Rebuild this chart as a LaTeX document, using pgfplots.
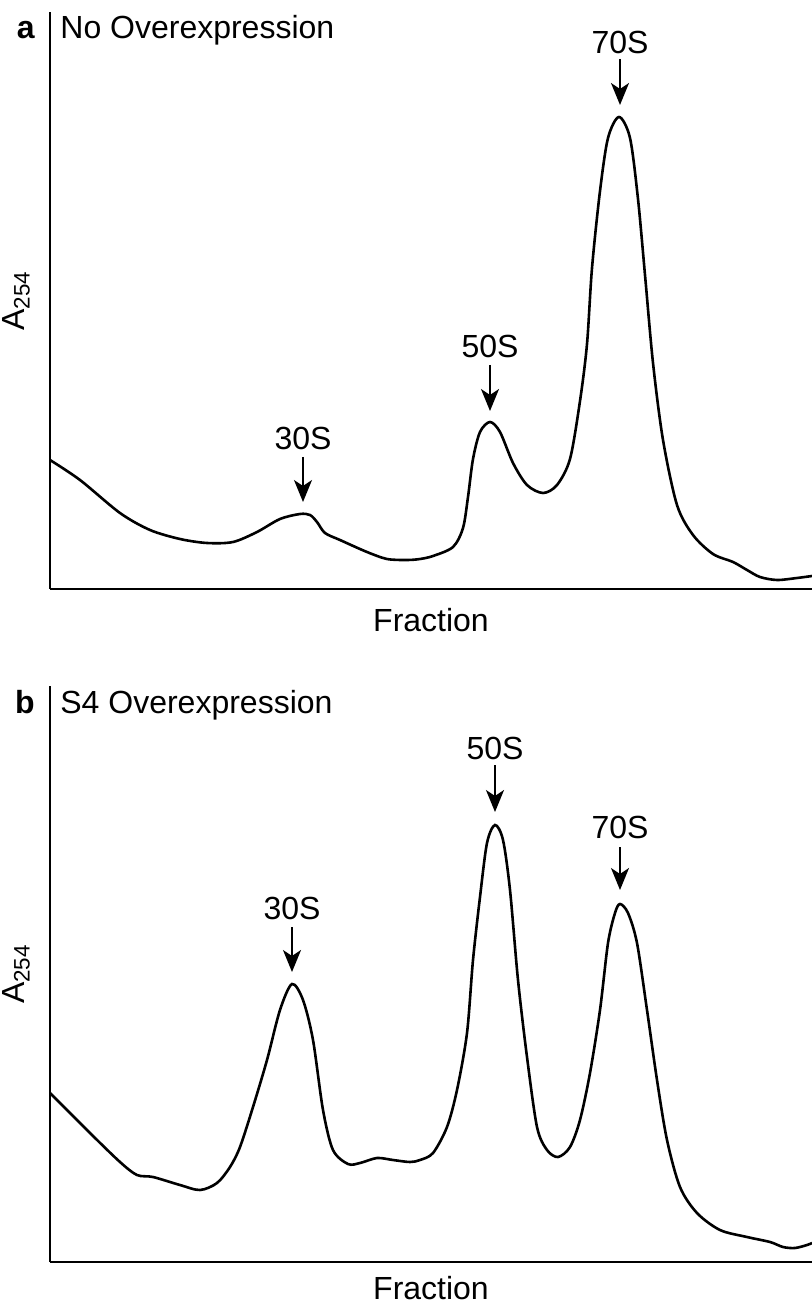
\documentclass[border=0pt]{standalone}
\usepackage{fontspec}
\setmainfont{Liberation Sans}
\usepackage{pgfplots}
\pgfplotsset{compat=1.18}
\usetikzlibrary{arrows.meta}

% one sucrose-gradient profile panel
\pgfplotsset{
  profile/.style={
    width=381pt, height=288.5pt, scale only axis,
    xmin=0, xmax=762, ymin=0,
    axis x line=bottom, axis y line=left,
    axis line style={line width=1pt, -},
    xtick=\empty, ytick=\empty,
    xlabel={Fraction}, ylabel={A\textsubscript{254}},
    xlabel style={at={(axis description cs:0.5,0)}, anchor=north, inner sep=0pt, yshift=-9.5pt},
    ylabel style={at={(axis description cs:-0.012,0.5)}, anchor=south},
    clip=false,
  },
  trace/.style={black, line width=1.3pt, smooth, tension=0.5, no markers},
}
\tikzset{peak/.style={-{Stealth[length=11pt,width=9pt,inset=3pt]}, line width=1pt}}

\begin{document}
\fontsize{16}{19}\selectfont
\begin{tikzpicture}
\useasboundingbox (-25pt,-358pt) rectangle (381pt,294.5pt);

% ---- a: no overexpression
\begin{axis}[profile, ymax=577]
\addplot[trace] coordinates {
(0,129)(30,109)(70,76)(100,59)(130,50)(157,46)(183,47)(207,57)(230,70)(250,75)
(260,74)(267,67)(275,56)(290,49)(317,37)(337,30)(357,29)(370,30)(383,33)(403,42)
(413,61)(418,92)(423,130)(430,157)(440,167)(450,157)(463,126)(477,104)(493,96)
(507,104)(520,130)(530,188)(537,245)(542,321)(550,398)(558,451)(569,472)(580,451)
(588,390)(595,314)(603,226)(613,149)(627,84)(643,54)(663,35)(683,27)(697,19)
(710,12)(727,9)(747,11)(762,13)};
\node at (axis cs:253,151) {30S};
\draw[peak] (axis cs:253,132) -- (axis cs:253,87);
\node at (axis cs:440,243) {50S};
\draw[peak] (axis cs:440,224) -- (axis cs:440,178);
\node at (axis cs:570,547) {70S};
\draw[peak] (axis cs:570,530) -- (axis cs:570,484);
\node[anchor=base east, inner sep=0, font=\bfseries, xshift=-7.5pt, yshift=-13.5pt] at (rel axis cs:0,1) {a};
\node[anchor=base west, inner sep=0, xshift=5pt, yshift=-13.5pt] at (rel axis cs:0,1) {No Overexpression};
\end{axis}

% ---- b: S4 overexpression
\begin{axis}[profile, at={(0,-336.5pt)}, ymax=576, height=288pt,
  xlabel style={yshift=2.5pt}]
\addplot[trace] coordinates {
(0,169)(40,129)(70,100)(87,87)(103,85)(130,77)(150,72)(167,79)(180,95)(190,115)
(203,155)(217,202)(230,252)(242,278)(253,262)(263,222)(273,152)(283,112)(298,98)
(310,99)(327,104)(343,102)(360,100)(370,102)(383,109)(397,135)(407,172)(417,229)
(423,302)(430,365)(437,419)(445,437)(453,422)(460,372)(468,282)(477,205)(487,135)
(497,112)(508,105)(520,115)(530,142)(540,189)(550,252)(558,319)(565,349)(570,358)
(578,349)(587,319)(597,252)(607,182)(617,122)(630,75)(647,49)(670,32)(697,25)
(720,20)(733,15)(745,14)(757,17)(762,19)};
\node at (axis cs:242,354) {30S};
\draw[peak] (axis cs:242,335) -- (axis cs:242,290);
\node at (axis cs:445,514) {50S};
\draw[peak] (axis cs:445,497) -- (axis cs:445,450);
\node at (axis cs:570,435) {70S};
\draw[peak] (axis cs:570,415) -- (axis cs:570,372);
\node[anchor=base east, inner sep=0, font=\bfseries, xshift=-7.5pt, yshift=-13.5pt] at (rel axis cs:0,1) {b};
\node[anchor=base west, inner sep=0, xshift=5pt, yshift=-13.5pt] at (rel axis cs:0,1) {S4 Overexpression};
\end{axis}
\end{tikzpicture}
\end{document}
